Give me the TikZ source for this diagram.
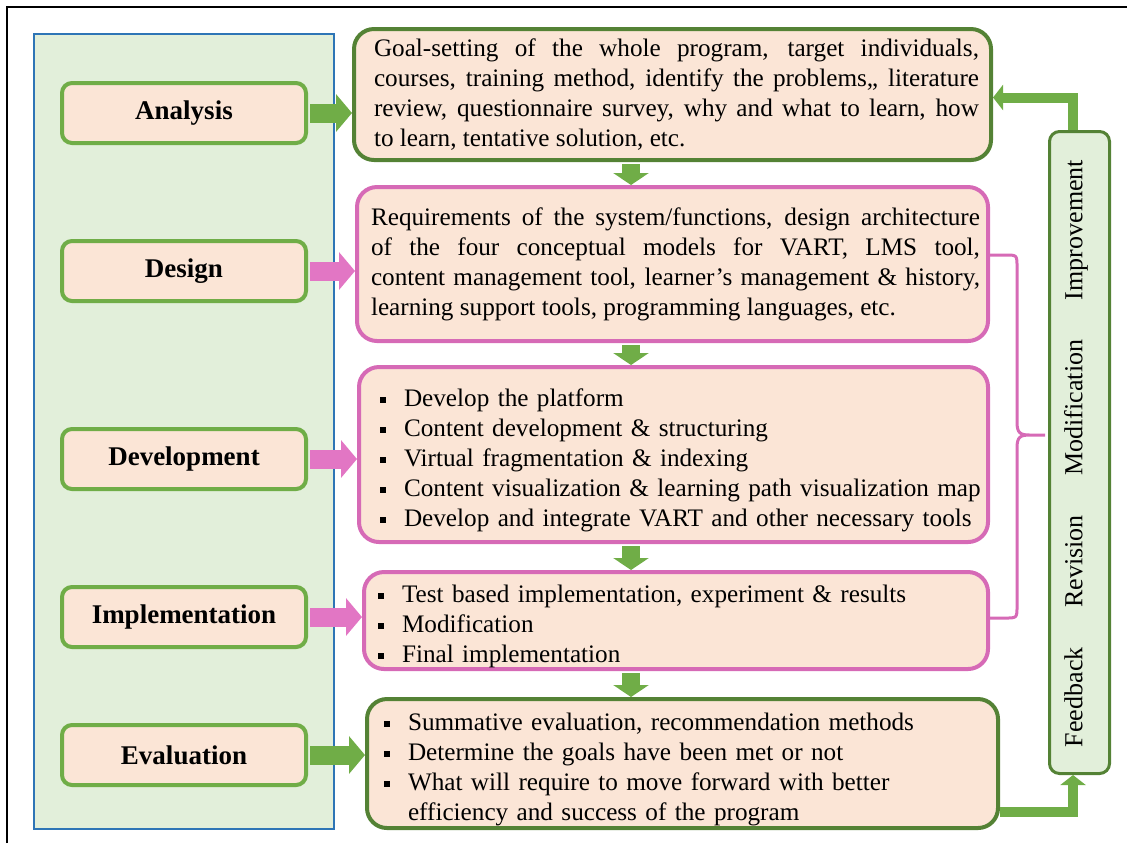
\documentclass[tikz,border=0pt]{standalone}
\usepackage{fontspec}
\setmainfont{Liberation Serif}
\usepackage{tikz}
\usetikzlibrary{arrows.meta}
\definecolor{peach}{RGB}{251,229,214}
\definecolor{mint}{RGB}{226,239,218}
\definecolor{leafgreen}{RGB}{112,173,71}
\definecolor{darkleaf}{RGB}{84,130,53}
\definecolor{orchid}{RGB}{214,106,182}
\definecolor{orchidfill}{RGB}{226,118,196}
\definecolor{panelblue}{RGB}{46,117,182}

\hyphenpenalty=10000
\exhyphenpenalty=10000

% square bullet with hanging indent
\newcommand{\bul}{\par\noindent\hangindent=12pt\hangafter=1\makebox[12pt][l]{\rule[2pt]{3pt}{3pt}}}

\begin{document}
\begin{tikzpicture}[x=0.5pt, y=-0.5pt,
    stage/.style={draw=leafgreen, fill=peach, line width=2pt, rounded corners=5pt,
        minimum width=122pt, minimum height=30pt,
        font=\fontsize{13.5}{16}\selectfont\bfseries},
    box/.style={fill=peach, line width=2pt, rounded corners=10pt, inner sep=0pt,
        font=\fontsize{12.6}{15}\selectfont},
    flow/.style={line width=9.5pt, shorten <=1pt, -{Triangle[length=8pt, width=18.5pt]}},
    drop/.style={leafgreen, line width=9pt, shorten <=1pt, -{Triangle[length=6pt, width=17.5pt]}},
    back/.style={leafgreen, line width=5pt, -{Triangle[length=5pt, width=12.5pt]}},
    bracket/.style={orchid, line width=1.5pt}]
    \useasboundingbox (0,0) rectangle (1127,843);

    % Frame and left panel
    \draw[line width=1pt] (7,843) -- (7,7) -- (1127,7);
    \draw[panelblue, fill=mint, line width=1pt] (34,34) rectangle (334,829);

    % Stage labels
    \node[stage] (analysis)  at (184,113) {Analysis};
    \node[stage] (design)    at (184,271) {Design};
    \node[stage] (develop)   at (184,459) {Development};
    \node[stage] (implement) at (184,617) {Implementation};
    \node[stage] (evaluate)  at (184,755) {Evaluation};

    % Step boxes (trailing \par keeps the margins on the last line)
    \node[box, draw=darkleaf, text width=318.5pt, minimum height=65.5pt, align=justify]
        (goalbox) at (672.5,94.5) {\leftskip=10pt \rightskip=6pt \tolerance=10000 \noindent
        Goal-setting of the whole program, target individuals,\linebreak
        courses, training method, identify the problems,, literature\linebreak
        review, questionnaire survey, why and what to learn, how\linebreak
        to learn, tentative solution, etc.\par};
    \node[box, draw=orchid, text width=315.5pt, minimum height=77pt, align=justify]
        (reqbox) at (672.5,264) {\leftskip=7pt \rightskip=4pt \tolerance=10000 \noindent
        Requirements of the system/functions, design architecture\linebreak
        of the four conceptual models for VART, LMS tool,\linebreak
        content management tool, learner’s management \& history,\linebreak
        learning support tools, programming languages, etc.\par};
    \node[box, draw=orchid, text width=314.5pt, minimum height=87.5pt, align=left]
        (devbox) at (673.5,454.5) {\leftskip=10.5pt
        \bul Develop the platform
        \bul Content development \& structuring
        \bul Virtual fragmentation \& indexing
        \bul Content visualization \& learning path visualization map
        \bul Develop and integrate VART and other necessary tools\par};
    \node[box, draw=orchid, text width=312pt, minimum height=48.5pt, align=left]
        (impbox) at (676,620.5) {\leftskip=7pt
        \bul Test based implementation, experiment \& results
        \bul Modification
        \bul Final implementation\par};
    \node[box, draw=darkleaf, text width=315.5pt, minimum height=64.5pt, align=left]
        (evalbox) at (682.5,763.5) {\leftskip=8.5pt
        \bul Summative evaluation, recommendation methods
        \bul Determine the goals have been met or not
        \bul What will require to move forward with better\linebreak
        efficiency and success of the program\par};

    % Feedback column
    \node[draw=darkleaf, fill=mint, line width=1.5pt, rounded corners=5pt,
        minimum width=30pt, minimum height=321pt] (loopbox) at (1079.5,452.5) {};
    \node[rotate=90, font=\fontsize{13}{15}\selectfont] (loopwords) at (1076,453.5)
        {\makebox[293.5pt]{Feedback\hfill Revision\hfill Modification\hfill Improvement}};

    % Stage -> step arrows
    \draw[flow, leafgreen]  (analysis)  -- (goalbox.west |- analysis.east);
    \draw[flow, orchidfill] (design)    -- (reqbox.west |- design.east);
    \draw[flow, orchidfill] (develop)   -- (devbox.west |- develop.east);
    \draw[flow, orchidfill] (implement) -- (impbox.west |- implement.east);
    \draw[flow, leafgreen]  (evaluate)  -- (evalbox.west |- evaluate.east);

    % Step -> step arrows
    \coordinate (ax) at (631,0);
    \foreach \a/\b in {goalbox/reqbox, reqbox/devbox, devbox/impbox, impbox/evalbox}
        \draw[drop] (\a.south -| ax) -- (\b.north -| ax);

    % Feedback loop
    \coordinate (lx) at (1073,812);
    \coordinate (ty) at (0,97.5);
    \draw[back] (evalbox.east |- lx) -| (loopbox.south -| lx);
    \draw[back] (loopbox.north -| lx) |- (goalbox.east |- ty);

    % Bracket over design to implementation
    \coordinate (bt) at (1017,255);
    \coordinate (bb) at (1017,618);
    \draw[bracket] (reqbox.east |- bt) -- (1005,255) .. controls (1017,255) .. (1017,267)
        -- (1017,422) .. controls (1017,433) and (1020,435) .. (1030,435) -- (1045,435)
        -- (1030,435) .. controls (1020,435) and (1017,437) .. (1017,448)
        -- (1017,606) .. controls (1017,618) .. (1005,618) -- (impbox.east |- bb);
\end{tikzpicture}
\end{document}
